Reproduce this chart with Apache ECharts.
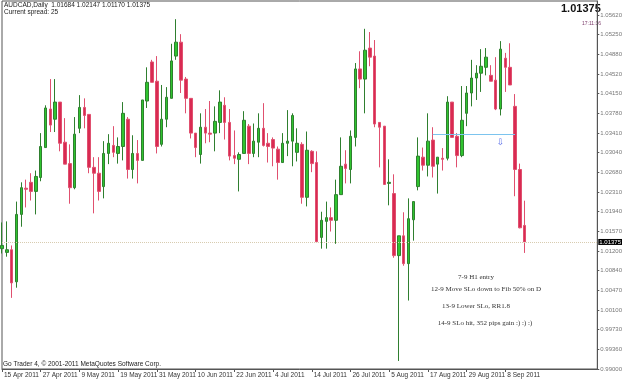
<!DOCTYPE html>
<html>
<head>
<meta charset="utf-8">
<title>AUDCAD Daily</title>
<script src="https://cdn.jsdelivr.net/npm/echarts@6/dist/echarts.min.js"></script>
<style>
  html, body { margin: 0; padding: 0; background: #fff; }
  #chart { width: 625px; height: 380px; }
</style>
</head>
<body>
<div id="chart"></div>
<script>
// AUDCAD daily, 15 Apr - 14 Sep 2011

// trading days of each month
var aprDays = [15, 18, 19, 20, 21, 22, 25, 26, 27, 28, 29];
var mayDays = [2, 3, 4, 5, 6, 9, 10, 11, 12, 13, 16, 17, 18, 19, 20, 23, 24, 25, 26, 27, 30, 31];
var junDays = [1, 2, 3, 6, 7, 8, 9, 10, 13, 14, 15, 16, 17, 20, 21, 22, 23, 24, 27, 28, 29, 30];
var julDays = [1, 4, 5, 6, 7, 8, 11, 12, 13, 14, 15, 18, 19, 20, 21, 22, 25, 26, 27, 28, 29];
var augDays = [1, 2, 3, 4, 5, 8, 9, 10, 11, 12, 15, 16, 17, 18, 19, 22, 23, 24, 25, 26, 29, 30, 31];
var sepDays = [1, 2, 5, 6, 7, 8, 9, 12, 13, 14];

var opens = [
    1.0125, 1.0118, 1.0123, 1.0063, 1.0189, 1.0238, 1.0249, 1.0232, 1.0258, 1.0314,
    1.0386, 1.0367, 1.0399, 1.0324, 1.0284, 1.0239, 1.0350, 1.0389, 1.0376, 1.0277,
    1.0266, 1.0241, 1.0303, 1.0318, 1.0303, 1.0316, 1.0367, 1.0273, 1.0303, 1.0290,
    1.0401, 1.0474, 1.0438, 1.0320, 1.0367, 1.0406, 1.0485, 1.0511, 1.0442, 1.0406,
    1.0341, 1.0301, 1.0352, 1.0341, 1.0341, 1.0361, 1.0393, 1.0361, 1.0299, 1.0292,
    1.0303, 1.0354, 1.0303, 1.0324, 1.0350, 1.0322, 1.0329, 1.0311, 1.0286, 1.0322,
    1.0326, 1.0305, 1.0320, 1.0221, 1.0307, 1.0286, 1.0146, 1.0176, 1.0183, 1.0178,
    1.0226, 1.0283, 1.0273, 1.0333, 1.0461, 1.0442, 1.0500, 1.0485, 1.0361, 1.0354,
    1.0247, 1.0228, 1.0112, 1.0149, 1.0097, 1.0179, 1.0241, 1.0296, 1.0281, 1.0328,
    1.0283, 1.0294, 1.0294, 1.0399, 1.0335, 1.0299, 1.0378, 1.0416, 1.0444, 1.0453,
    1.0464, 1.0449, 1.0440, 1.0386, 1.0481, 1.0464, 1.0391, 1.0273, 1.01684
];
var closes = [
    1.0131, 1.0123, 1.0061, 1.0189, 1.0239, 1.0236, 1.0232, 1.0260, 1.0316, 1.0388,
    1.0356, 1.0399, 1.0322, 1.0283, 1.0239, 1.0339, 1.0389, 1.0374, 1.0277, 1.0266,
    1.0232, 1.0303, 1.0322, 1.0305, 1.0316, 1.0378, 1.0273, 1.0303, 1.0290, 1.0403,
    1.0436, 1.0436, 1.0316, 1.0367, 1.0408, 1.0476, 1.0511, 1.0440, 1.0406, 1.0341,
    1.0314, 1.0352, 1.0341, 1.0339, 1.0363, 1.0399, 1.0361, 1.0298, 1.0294, 1.0301,
    1.0365, 1.0303, 1.0326, 1.0350, 1.0318, 1.0316, 1.0313, 1.0286, 1.0322, 1.0326,
    1.0374, 1.0322, 1.0221, 1.0309, 1.0284, 1.0138, 1.0178, 1.0183, 1.0178, 1.0226,
    1.0279, 1.0275, 1.0335, 1.0461, 1.0442, 1.0496, 1.0483, 1.0358, 1.0352, 1.0245,
    1.0249, 1.0112, 1.0149, 1.0097, 1.0181, 1.0213, 1.0298, 1.0281, 1.0326, 1.0279,
    1.0296, 1.0292, 1.0399, 1.0333, 1.0299, 1.0365, 1.0416, 1.0444, 1.0453, 1.0466,
    1.0483, 1.0438, 1.0386, 1.0498, 1.0464, 1.0431, 1.0273, 1.0164, 1.01375
];
var lows = [
    1.0116, 1.0110, 1.0033, 1.0052, 1.0166, 1.0202, 1.0215, 1.0189, 1.0251, 1.0314,
    1.0343, 1.0343, 1.0307, 1.0283, 1.0209, 1.0236, 1.0341, 1.0350, 1.0266, 1.0191,
    1.0215, 1.0219, 1.0283, 1.0296, 1.0284, 1.0290, 1.0256, 1.0256, 1.0247, 1.0290,
    1.0388, 1.0436, 1.0303, 1.0316, 1.0352, 1.0406, 1.0478, 1.0416, 1.0378, 1.0331,
    1.0296, 1.0284, 1.0322, 1.0324, 1.0307, 1.0341, 1.0329, 1.0290, 1.0283, 1.0232,
    1.0303, 1.0283, 1.0296, 1.0296, 1.0316, 1.0286, 1.0279, 1.0254, 1.0286, 1.0298,
    1.0279, 1.0288, 1.0209, 1.0204, 1.0268, 1.0138, 1.0125, 1.0125, 1.0157, 1.0134,
    1.0226, 1.0247, 1.0247, 1.0316, 1.0425, 1.0378, 1.0466, 1.0352, 1.0277, 1.0245,
    1.0206, 1.0108, 0.9915, 1.0093, 1.0028, 1.0140, 1.0234, 1.0271, 1.0260, 1.0258,
    1.0228, 1.0271, 1.0290, 1.0333, 1.0277, 1.0296, 1.0354, 1.0391, 1.0403, 1.0418,
    1.0449, 1.0438, 1.0384, 1.0374, 1.0418, 1.0431, 1.0223, 1.0163, 1.01170
];
var highs = [
    1.0174, 1.0176, 1.0131, 1.0213, 1.0249, 1.0254, 1.0266, 1.0271, 1.0341, 1.0393,
    1.0442, 1.0442, 1.0399, 1.0369, 1.0320, 1.0371, 1.0412, 1.0406, 1.0376, 1.0296,
    1.0296, 1.0326, 1.0339, 1.0354, 1.0333, 1.0399, 1.0371, 1.0337, 1.0328, 1.0403,
    1.0464, 1.0478, 1.0485, 1.0431, 1.0427, 1.0508, 1.0554, 1.0526, 1.0446, 1.0406,
    1.0341, 1.0378, 1.0386, 1.0401, 1.0391, 1.0421, 1.0408, 1.0386, 1.0346, 1.0305,
    1.0382, 1.0358, 1.0359, 1.0378, 1.0397, 1.0341, 1.0333, 1.0316, 1.0341, 1.0384,
    1.0378, 1.0350, 1.0324, 1.0344, 1.0309, 1.0307, 1.0194, 1.0213, 1.0202, 1.0254,
    1.0333, 1.0309, 1.0346, 1.0472, 1.0494, 1.0536, 1.0530, 1.0515, 1.0361, 1.0354,
    1.0292, 1.0264, 1.0149, 1.0193, 1.0219, 1.0213, 1.0333, 1.0314, 1.0378, 1.0352,
    1.0296, 1.0313, 1.0410, 1.0399, 1.0341, 1.0429, 1.0429, 1.0478, 1.0468, 1.0498,
    1.0500, 1.0468, 1.0483, 1.0513, 1.0491, 1.0509, 1.0414, 1.0284, 1.02147
];

// price scale labels, bottom to top
var priceLabels = ['0.99000', '0.99360', '0.99730', '1.00100', '1.00470', '1.00840', '1.01200',
    '1.01570', '1.01940', '1.02310', '1.02680', '1.03040', '1.03410', '1.03780', '1.04150',
    '1.04520', '1.04880', '1.05250', '1.05620'];

var entryLevel = 1.0339;   // blue line
var arrowLevel = 1.0323;
var notes = ['7-9 H1 entry', '12-9 Move SLo down to Fib 50% on D', '13-9 Lower SLo, RR1.8', '14-9 SLo hit, 352 pips gain :) :) :)'];

var yMin = 0.99, yMax = 1.0588;
var yStep = (1.0562 - 0.99) / 18;
var emptyBars = 15;   // chart shift on the right

function monthLabels(days, mon) {
    return days.map(function (d) { return d + ' ' + mon + ' 2011'; });
}
var dates = [].concat(
    monthLabels(aprDays, 'Apr'), monthLabels(mayDays, 'May'), monthLabels(junDays, 'Jun'),
    monthLabels(julDays, 'Jul'), monthLabels(augDays, 'Aug'), monthLabels(sepDays, 'Sep')
);
var categories = dates.slice();
for (var i = 0; i < emptyBars; i++) categories.push('');

var candles = dates.map(function (d, i) {
    return [opens[i], closes[i], lows[i], highs[i]];
});
var last = dates.length - 1;
var lastPrice = closes[last];
var header = 'AUDCAD,Daily  ' + [opens[last], highs[last], lows[last], closes[last]]
    .map(function (v) { return v.toFixed(5); }).join(' ');

var showEvery8 = function (idx, val) { return idx % 8 === 0 && val !== ''; };

var chart = echarts.init(document.getElementById('chart'));
chart.setOption({
    animation: false,
    backgroundColor: '#ffffff',
    grid: {
        left: 2, right: 23, top: 1, bottom: 11,
        show: true,
        borderColor: '#555',
        borderWidth: 1
    },
    xAxis: {
        type: 'category',
        data: categories,
        boundaryGap: false,
        axisLine: { lineStyle: { color: '#555' } },
        axisTick: { interval: showEvery8, length: 3, lineStyle: { color: '#555' } },
        axisLabel: {
            interval: showEvery8,
            align: 'left',
            margin: 3,
            padding: [0, 0, 0, 2],
            fontSize: 6.5,
            fontFamily: 'Liberation Sans',
            color: '#333'
        },
        splitLine: { show: false }
    },
    yAxis: {
        type: 'value',
        position: 'right',
        min: yMin,
        max: yMax,
        interval: yStep,
        axisLine: { show: true, lineStyle: { color: '#555' } },
        axisTick: { show: true, length: 2, lineStyle: { color: '#555' } },
        axisLabel: {
            margin: 3,
            fontSize: 6,
            fontFamily: 'Liberation Sans',
            color: '#777',
            showMaxLabel: false,
            formatter: function (v) {
                var k = Math.round((v - yMin) / yStep);
                return priceLabels[k] || '';
            }
        },
        splitLine: { show: false }
    },
    series: [
        {
            name: 'AUDCAD',
            type: 'candlestick',
            data: candles,
            barWidth: 3,
            itemStyle: {
                color: '#2fc42f',
                color0: '#d92a52',
                borderColor: '#2f7f2f',
                borderColor0: '#e0506f',
                borderWidth: 1
            },
            markLine: {
                silent: true,
                symbol: 'none',
                animation: false,
                data: [
                    // bid line across the whole chart
                    [
                        {
                            coord: [categories[0], lastPrice],
                            lineStyle: { color: '#d8ccb0', type: 'dotted', width: 1 },
                            label: {
                                show: true,
                                position: 'end',
                                distance: 1,
                                formatter: lastPrice.toFixed(5),
                                backgroundColor: '#000',
                                color: '#fff',
                                fontSize: 6,
                                fontFamily: 'Liberation Sans',
                                padding: [0, 1]
                            }
                        },
                        { coord: [categories.length - 1, lastPrice] }
                    ],
                    [
                        { coord: [dates[89], entryLevel], lineStyle: { color: '#7cc4ee', type: 'solid', width: 1 }, label: { show: false } },
                        { coord: [dates[106], entryLevel] }
                    ]
                ]
            },
            markPoint: {
                silent: true,
                symbol: 'rect',
                symbolSize: 1,
                itemStyle: { color: 'rgba(0,0,0,0)' },
                data: [
                    {
                        coord: [dates[103], arrowLevel],
                        label: {
                            show: true,
                            position: 'inside',
                            formatter: '\u21e9',
                            color: '#5b6fe8',
                            fontSize: 9,
                            fontFamily: 'DejaVu Sans'
                        }
                    }
                ]
            }
        }
    ],
    graphic: [
        { type: 'text', left: 4, top: 2, style: { text: header, font: '6.5px "Liberation Sans"', fill: '#222' } },
        { type: 'text', left: 4, top: 9, style: { text: 'Current spread: 25', font: '6.5px "Liberation Sans"', fill: '#222' } },
        { type: 'text', left: 561, top: 3, style: { text: lastPrice.toFixed(5), font: 'bold 11px "Liberation Sans"', fill: '#111' } },
        { type: 'text', left: 582, top: 21, style: { text: '17:11:36', font: '5px "Liberation Sans"', fill: '#7a3a6a' } },
        { type: 'text', x: 476, y: 277, style: { text: notes[0], align: 'center', verticalAlign: 'middle', font: '7px "Liberation Serif"', fill: '#333' } },
        { type: 'text', x: 486, y: 289, style: { text: notes[1], align: 'center', verticalAlign: 'middle', font: '7px "Liberation Serif"', fill: '#333' } },
        { type: 'text', x: 476, y: 306, style: { text: notes[2], align: 'center', verticalAlign: 'middle', font: '7px "Liberation Serif"', fill: '#333' } },
        { type: 'text', x: 485, y: 323, style: { text: notes[3], align: 'center', verticalAlign: 'middle', font: '7px "Liberation Serif"', fill: '#333' } },
        { type: 'text', left: 3, top: 361, style: { text: 'Go Trader 4, \u00a9 2001-2011 MetaQuotes Software Corp.', font: '6.5px "Liberation Sans"', fill: '#222' } }
    ]
});
</script>
</body>
</html>
